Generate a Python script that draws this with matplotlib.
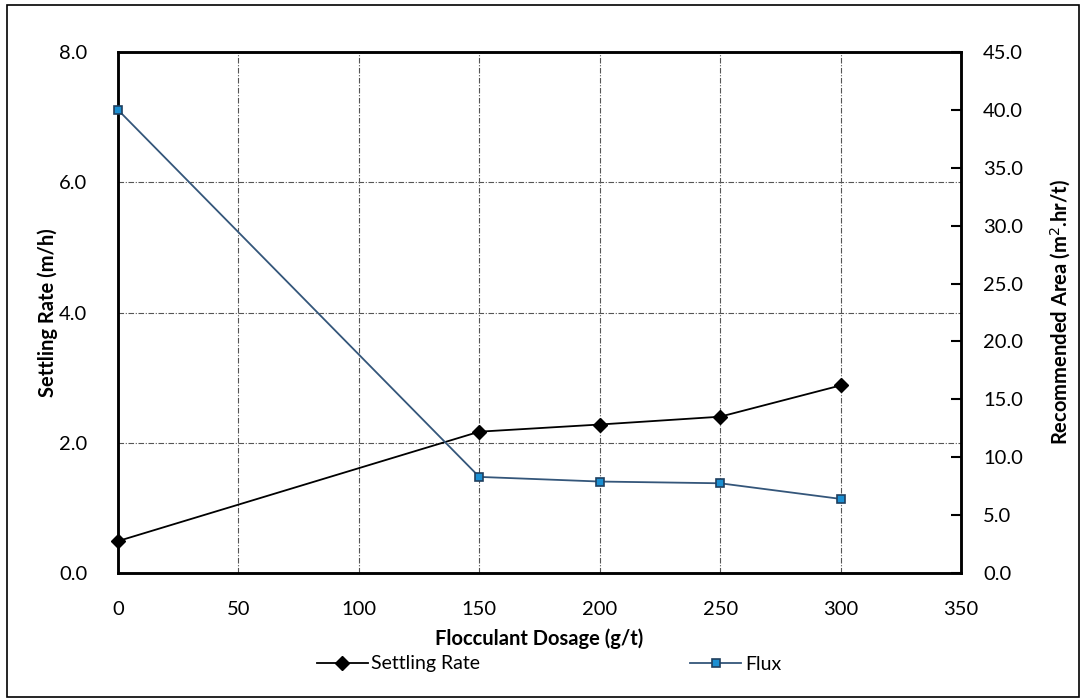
import matplotlib
matplotlib.use("Agg")
import matplotlib.pyplot as plt
from matplotlib.patches import Rectangle

plt.rcParams["font.family"] = ["Lato", "DejaVu Sans"]

dosage        = [0, 150, 200, 250, 300]
settling_rate = [0.49, 2.17, 2.28, 2.40, 2.88]
flux          = [40.0, 8.3, 7.9, 7.75, 6.4]

left_ticks  = [0.0, 2.0, 4.0, 6.0, 8.0]
right_ticks = [0.0, 5.0, 10.0, 15.0, 20.0, 25.0, 30.0, 35.0, 40.0, 45.0]
x_ticks     = [0, 50, 100, 150, 200, 250, 300, 350]

LINE_BLUE = "#34567A"
FACE_BLUE = "#1B8FD2"
GRID      = "#555555"

fig = plt.figure(figsize=(10.83, 7.0), dpi=100)
ax = fig.add_axes([118 / 1083, 1 - 573 / 700, (961 - 118) / 1083, (573 - 52) / 700])
ax2 = ax.twinx()

ax.plot(dosage, settling_rate, color="black", lw=1.3, marker="D", ms=7,
        mfc="black", mec="black", label="Settling Rate", zorder=3, clip_on=False)
ax2.plot(dosage, flux, color=LINE_BLUE, lw=1.3, marker="s", ms=6,
         mfc=FACE_BLUE, mec="#1F3F5F", mew=1.2, label="Flux", zorder=3, clip_on=False)

ax.set_xlim(0, 350)
ax.set_ylim(0, 8)
ax2.set_ylim(0, 45)
ax.set_xticks(x_ticks)
ax.set_yticks(left_ticks)
ax2.set_yticks(right_ticks)
ax.set_yticklabels([f"{v:.1f}" for v in left_ticks], fontsize=14.5)
ax2.set_yticklabels([f"{v:.1f}" for v in right_ticks], fontsize=14.5)
ax.set_xticklabels([str(v) for v in x_ticks], fontsize=14.5)

ax.tick_params(axis="x", length=0, pad=20)
ax.tick_params(axis="y", length=0, pad=22)
ax2.tick_params(axis="y", direction="in", length=7, width=1.5, pad=16)

ax.grid(True, color=GRID, lw=0.8, ls=(0, (5, 1.5, 1, 1.5)))
ax.set_axisbelow(True)
for a in (ax, ax2):
    for s in a.spines.values():
        s.set_linewidth(1.8)
        s.set_color("black")

ax.set_xlabel("Flocculant Dosage (g/t)", fontsize=14.5, fontweight="bold", labelpad=8)
ax.set_ylabel("Settling Rate (m/h)", fontsize=14.5, fontweight="bold", labelpad=1)
ax2.set_ylabel("Recommended Area (m$^{2}$.hr/t)", fontsize=14.5, fontweight="bold", labelpad=18)

h1, l1 = ax.get_legend_handles_labels()
h2, l2 = ax2.get_legend_handles_labels()
fig.legend(h1 + h2, l1 + l2, loc="center", bbox_to_anchor=(0.507, 1 - 664 / 700),
           ncol=2, frameon=False, fontsize=14, columnspacing=10.8,
           handlelength=2.6, handletextpad=0.2)

fig.patches.append(Rectangle((7 / 1083, 3 / 700), 1072 / 1083, 692 / 700,
                             transform=fig.transFigure, fill=False,
                             edgecolor="black", lw=1.2))

fig.savefig("out.png", dpi=100)
